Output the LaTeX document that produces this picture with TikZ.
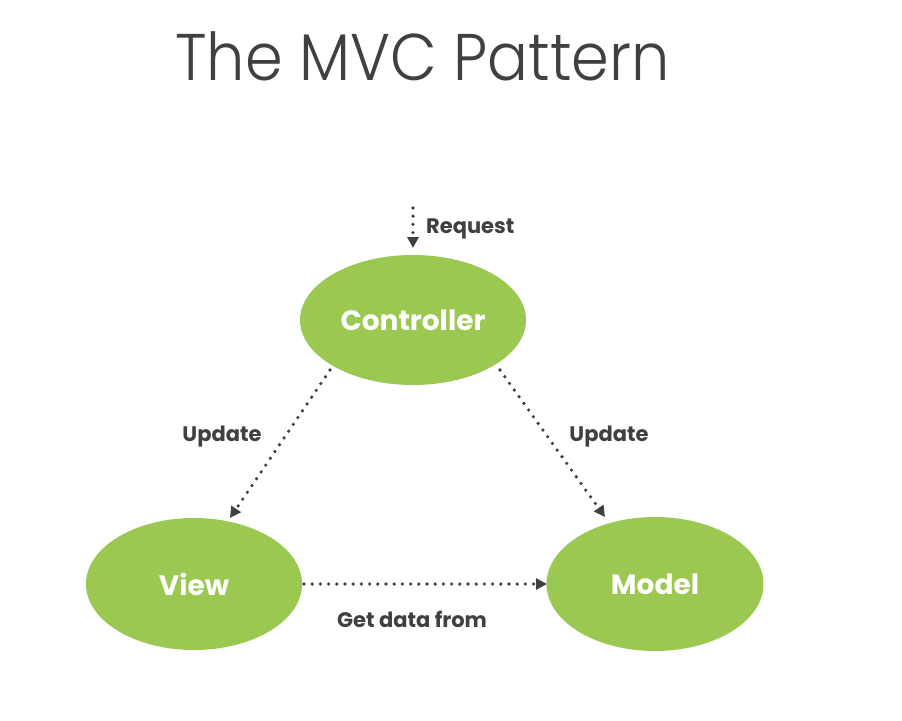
\documentclass[tikz,border=0pt]{standalone}
\usepackage{fontspec}
\setmainfont{Poppins}
\newfontfamily\titlefont{Poppins Light}
\usetikzlibrary{arrows.meta,shapes.geometric}
\definecolor{leaf}{HTML}{9BC850}
\definecolor{ink}{HTML}{404040}
\begin{document}
\begin{tikzpicture}[x=1pt,y=-1pt,
  comp/.style={ellipse, fill=leaf, draw=none, text=white,
    font=\fontsize{28}{32}\selectfont\bfseries, inner sep=0pt},
  lbl/.style={text=ink, font=\fontsize{21}{25}\selectfont\bfseries, inner sep=0pt},
  flow/.style={draw=ink, line width=3.6pt, line cap=round,
    dash pattern=on 0pt off 8.2pt, -{Triangle[length=11pt,width=11pt]}, shorten >=0pt},
]
\useasboundingbox[fill=white] (0,0) rectangle (902,720);
\node[text=ink, font=\titlefont\fontsize{66}{70}\selectfont, anchor=base west, inner sep=0pt]
  (title) at (175,80) {\scalebox{0.918}[1]{The MVC Pattern}};

\node[comp, minimum width=226pt, minimum height=130pt] (ctrl) at (413,320) {Controller};
\node[comp, minimum width=216pt, minimum height=132pt] (view) at (194,584) {View};
\node[comp, minimum width=217pt, minimum height=134pt] (model) at (655,584) {Model};

\coordinate (reqtop) at (413,208);
\coordinate (reqend) at (413,248);
\draw[flow] (reqtop) -- (reqend);
\node[lbl, anchor=west] (req) at (426,229) {Request};

\coordinate (c1) at (330,370);
\coordinate (v1) at (230,518);
\draw[flow] (c1) -- (v1);
\node[lbl] (updl) at (222,437) {Update};

\coordinate (c2) at (500,370);
\coordinate (m1) at (605,517);
\draw[flow] (c2) -- (m1);
\node[lbl] (updr) at (609,437) {Update};

\coordinate (v2) at (304,584);
\coordinate (m2) at (547,584);
\draw[flow] (v2) -- (m2);
\node[lbl] (get) at (412,619) {Get data from};
\end{tikzpicture}
\end{document}
